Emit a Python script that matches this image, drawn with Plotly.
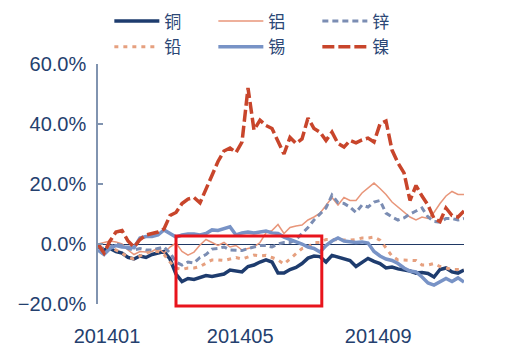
import plotly.graph_objects as go

# sampled trading-day index (0 = start of Jan 2014)
idx = list(range(62))
tick_pos = [1.5, 23.7, 46.7]
tick_text = ["201401", "201405", "201409"]

copper = [-1, -2, -1.5, -2.5, -3, -4.5, -5, -4, -4.5, -3.5, -3, -2.5, -5, -10, -12.5, -11.5,
          -11.8, -11, -10.5, -10.8, -10.3, -10, -8.7, -9, -9.3, -7.5, -7, -6, -5.3, -6, -9.7,
          -9.7, -8.5, -7.8, -6.5, -4.7, -4, -4.2, -6, -3.8, -4.3, -4.8, -5.5, -7.5, -6, -4.8,
          -5.8, -6.5, -8, -7.7, -8.3, -8.7, -9, -9.7, -9.5, -9.8, -11, -8.5, -8, -9.3, -9.7, -8.7]
aluminium = [0, 0.5, 1, 0.7, 0, -2, -3.5, -2.5, -2.7, -2.5, -1.3, -3, -1, 0.3, -2.5, -3.7,
             -2.7, -0.3, 1.5, 0.5, -0.5, 0.5, -1, -0.5, -2, -1.5, -1, 0.5, 3.7, 4.5, 6.5,
             3.5, 5.5, 6, 6.3, 8, 9, 10.3, 13, 15.5, 13, 15.5, 14.5, 14.5, 17, 18.5,
             20.3, 18.5, 16.5, 14, 12.3, 10.7, 9, 8, 9, 8.5, 10.5, 13.5, 16, 17.5, 16.5, 16.5]
zinc = [-1, -1.5, -1, 0, -0.5, -1.5, -2, -1.5, -2, -2, -1.5, -1, -3, -6, -7, -6,
        -6.3, -4.5, -3.5, -1.7, -1.5, -1, -2, -2, -2.2, -1.5, -1, -0.5, -0.5, -1, 0,
        0.5, 0.5, 1.5, 3.5, 5.5, 8, 10, 12, 16.3, 13.8, 13.5, 12.3, 10.5, 13, 12.3,
        14, 14.5, 10.3, 9, 8, 8.7, 10, 11, 12, 9, 7.5, 7.3, 8.5, 8.5, 8, 8.5]
lead = [-0.5, -1.5, -1, -2, -3, -4.5, -5, -4, -3, -2.5, -2.5, -3.5, -6, -8, -8.5, -8,
        -8, -7.5, -6.5, -5.3, -5.3, -5.5, -5, -4.5, -5, -4.3, -3.7, -4, -3.8, -4.5, -5.3,
        -6.7, -5, -3.5, -1.5, -1, 0.5, 0.5, 1.5, 1.5, 1.3, 1.3, 1.3, 1.5, 2, 2,
        2.3, 1.3, -1.3, -4, -5.3, -5.3, -5.5, -5.5, -7, -7, -6.5, -7.5, -8, -8.5, -8.5, -8.5]
tin = [-2, -3.5, -1.5, -0.5, -1, -1, -1.2, 2, 2.5, 2.5, 3, 4.7, 3.5, 2.3, 3, 3.3,
       3.3, 3, 3.5, 4.7, 4.5, 5, 5.7, 3, 3.7, 4, 3.7, 4, 4.3, 3.7, 3.5,
       2.3, 1.5, 1, 0, -1, -1.5, -2.7, -0.5, 1, 2, 1, 0.7, 0.5, 0.7, 0.3,
       -2.5, -4, -5, -5.5, -6.5, -8, -9, -9.3, -11, -13, -13.7, -12.7, -11.5, -12.5, -11.3, -12.7]
nickel = [0, -3, 1, 4, 4.5, 1, -1, 1.5, 3, 3.5, 4, 5, 9.5, 10.5, 13.5, 15,
          15.5, 13.7, 18.5, 23, 27.5, 31, 32, 30.5, 34, 52, 38, 41.3, 39.5, 38.5, 34,
          30, 35.5, 33.5, 35, 42, 38.5, 37.3, 34.5, 37.3, 33.5, 32.3, 34.5, 33.7, 34.7, 35.3,
          34, 40, 41, 31.3, 27, 23.7, 14.5, 19.5, 16, 13, 8.5, 7.5, 12, 9.5, 9, 11]

names = ["铜", "铝", "锌", "铅", "锡", "镍"]
series = [copper, aluminium, zinc, lead, tin, nickel]
colors = ["#1E3C6E", "#E8967A", "#7B8DB3", "#E6A07F", "#7893C6", "#C8452B"]
widths = [3.5, 1.5, 3, 3, 3.5, 3.5]
dashes = ["solid", "solid", "6px,4px", "4px,5px", "solid", "12px,4px"]
legend_ids = ["legend", "legend", "legend", "legend2", "legend2", "legend2"]

fig = go.Figure()
for n, s, c, w, d, lg in zip(names, series, colors, widths, dashes, legend_ids):
    fig.add_trace(go.Scatter(x=idx, y=s, name=n, mode="lines", legend=lg,
                             line=dict(color=c, width=w, dash=d)))

axis_font = dict(family="Arial, Liberation Sans, sans-serif", size=20, color="#24406E")
legend_common = dict(orientation="h", x=0.031, xanchor="left", yanchor="middle",
                     xref="paper", entrywidth=44, entrywidthmode="pixels",
                     font=dict(family="Noto Sans CJK SC, sans-serif", size=17, color="#2B4776"),
                     itemwidth=45, bgcolor="rgba(0,0,0,0)")

fig.update_layout(
    width=521, height=354,
    margin=dict(l=98, r=57, t=64, b=50, autoexpand=False),
    paper_bgcolor="white", plot_bgcolor="white",
    showlegend=True,
    legend=dict(y=1.177, **legend_common),
    legend2=dict(y=1.07, **legend_common),
    xaxis=dict(range=[0, 61], showgrid=False, zeroline=False, showline=False,
               tickmode="array", tickvals=tick_pos, ticktext=tick_text, ticks="",
               tickfont=axis_font, ticklabelstandoff=18),
    yaxis=dict(range=[-20, 60], dtick=20, tick0=0, tickformat=".1f", ticksuffix="%",
               showgrid=False, zeroline=True, zerolinecolor="#1F3864", zerolinewidth=1,
               showline=True, linecolor="#8194B0", linewidth=1.5,
               ticks="inside", ticklen=5, tickcolor="#8194B0", tickwidth=1.5,
               tickfont=axis_font, ticklabelstandoff=6),
    shapes=[dict(type="rect", xref="x", yref="paper", x0=13, x1=37.3, y0=-0.008, y1=0.283,
                 line=dict(color="#E8141C", width=3), fillcolor="rgba(0,0,0,0)", layer="above")],
)

fig.write_html("out.html")
